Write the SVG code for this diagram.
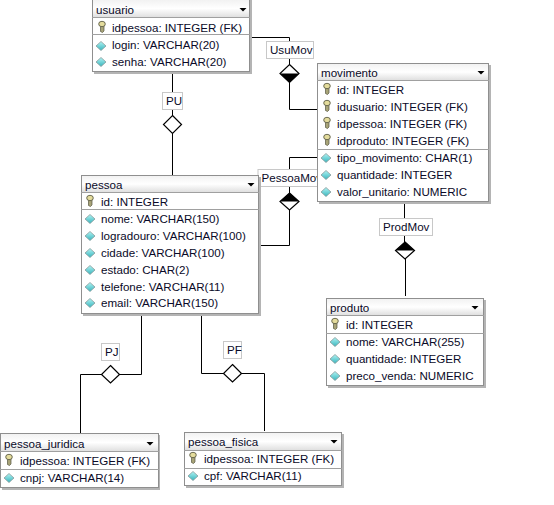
<svg xmlns="http://www.w3.org/2000/svg" xmlns:xlink="http://www.w3.org/1999/xlink" width="554" height="505" viewBox="0 0 554 505">
<style>
text{font-family:"Liberation Sans",Arial,sans-serif;font-size:11.6px;fill:#0a0a28}
.box{fill:#fff;stroke:#8f8f8f;stroke-width:1}
.shadow{fill:#b4b4b4}
.title{fill:url(#tg)}
.sep{stroke:#a0a0a0;stroke-width:1;fill:none}
.conn{fill:none;stroke:#000;stroke-width:1}
.lab{fill:#fff;stroke:#c8c8c8;stroke-width:1}
.dia{fill:#fff;stroke:#000;stroke-width:1.2}
.blk{fill:#000}
</style>
<defs>
<linearGradient id="tg" x1="0" y1="0" x2="0" y2="1"><stop offset="0" stop-color="#f2f2f2"/><stop offset=".5" stop-color="#fff"/><stop offset="1" stop-color="#e0e0e0"/></linearGradient>
<linearGradient id="ag" x1="0" y1="0" x2="0" y2="1"><stop offset="0" stop-color="#b0f4f4"/><stop offset="1" stop-color="#38b4bc"/></linearGradient>
<g id="key"><path d="M-1.500-2L-1.500 4.500L0.500 5.500L2 4V-2z" fill="#a8a478" stroke="#55553f" stroke-width=".7"/><ellipse cx="0" cy="-3" rx="3.300" ry="2.700" fill="#e4dc9c" stroke="#5f5f48" stroke-width=".9"/></g>
<path id="attr" d="M0-4.500L5 0L0 4.500L-5 0z" fill="url(#ag)" stroke="#8a9a9a" stroke-width=".8"/>
<path id="tri" d="M-3.500 0h7l-3.500 3.500z" fill="#000"/>
</defs>
<g id="connectors">
<path class="conn" d="M250 37.500H289.500V109.500H317"/>
<path class="conn" d="M172.500 72V175"/>
<path class="conn" d="M317 157.500H289.500V245.500H259"/>
<path class="conn" d="M404.500 202V242M405.500 259V296"/>
<path class="conn" d="M141.500 314V374.500H80.500V433"/>
<path class="conn" d="M201.500 314V373.500H264.500V431"/>
</g>
<g id="rel-UsuMov"><rect class="lab" x="266.500" y="41.500" width="47" height="17"/><text x="270" y="54">UsuMov</text><path class="dia" d="M289.500 64.500L299 73.500L289.500 82.500L280 73.500z"/><path class="blk" d="M280 73.500L289.500 82.500L299 73.500z"/></g>
<g id="rel-PU"><rect class="lab" x="162.500" y="92.500" width="20" height="17"/><text x="166" y="105">PU</text><path class="dia" d="M172.500 115.500L181.500 124.500L172.500 133.500L163.500 124.500z"/></g>
<g id="rel-ProdMov"><rect class="lab" x="379.500" y="218.500" width="53" height="17"/><text x="383" y="231">ProdMov</text><path class="dia" d="M405 242L414.500 250.500L405 259L395.500 250.500z"/><path class="blk" d="M395.500 250.500L405 242L414.500 250.500z"/></g>
<g id="rel-PJ"><rect class="lab" x="101.500" y="343.500" width="18" height="17"/><text x="105" y="356">PJ</text><path class="dia" d="M110.500 365.500L119.500 374.500L110.500 383L101.500 374.500z"/></g>
<g id="rel-PF"><rect class="lab" x="223.500" y="341.500" width="18" height="17"/><text x="227" y="354">PF</text><path class="dia" d="M232.500 364.500L241.500 373.500L232.500 382L223.500 373.500z"/></g>
<g id="rel-PessoaMov"><rect class="lab" x="258" y="169.500" width="62" height="17"/><text x="261.500" y="182">PessoaMov</text><path class="dia" d="M289.500 193L299 201.500L289.500 210L280 201.500z"/><path class="blk" d="M280 201.500L289.500 193L299 201.500z"/></g>
<g id="usuario"><rect class="shadow" x="94" y="-2" width="158" height="76"/><rect class="box" x="92.500" y="-2.500" width="157" height="74"/><rect class="title" x="93" y="0" width="156" height="17"/><path class="sep" d="M92 17.500H250M92 34.500H250"/><text x="96" y="14">usuario</text><use xlink:href="#tri" x="243" y="8"/><use xlink:href="#key" x="102" y="27"/><text x="112" y="32">idpessoa: INTEGER (FK)</text><use xlink:href="#attr" x="101" y="46"/><text x="112" y="49">login: VARCHAR(20)</text><use xlink:href="#attr" x="101" y="62"/><text x="112" y="66">senha: VARCHAR(20)</text></g>
<g id="movimento"><rect class="shadow" x="319" y="65" width="172" height="139"/><rect class="box" x="317.500" y="63.500" width="171" height="138"/><rect class="title" x="318" y="64" width="170" height="16"/><path class="sep" d="M317 80.500H489M317 149.500H489"/><text x="321" y="77">movimento</text><use xlink:href="#tri" x="481" y="71"/><use xlink:href="#key" x="327" y="89"/><text x="337" y="94">id: INTEGER</text><use xlink:href="#key" x="327" y="106"/><text x="337" y="111">idusuario: INTEGER (FK)</text><use xlink:href="#key" x="327" y="123"/><text x="337" y="128">idpessoa: INTEGER (FK)</text><use xlink:href="#key" x="327" y="140"/><text x="337" y="145">idproduto: INTEGER (FK)</text><use xlink:href="#attr" x="326" y="158"/><text x="337" y="162">tipo_movimento: CHAR(1)</text><use xlink:href="#attr" x="326" y="175"/><text x="337" y="179">quantidade: INTEGER</text><use xlink:href="#attr" x="326" y="192"/><text x="337" y="196">valor_unitario: NUMERIC</text></g>
<g id="pessoa"><rect class="shadow" x="83" y="177" width="178" height="139"/><rect class="box" x="81.500" y="175.500" width="177" height="138"/><rect class="title" x="82" y="176" width="176" height="16"/><path class="sep" d="M81 192.500H259M81 209.500H259"/><text x="85" y="189">pessoa</text><use xlink:href="#tri" x="251" y="183"/><use xlink:href="#key" x="90" y="201"/><text x="101" y="206">id: INTEGER</text><use xlink:href="#attr" x="90" y="219"/><text x="101" y="223">nome: VARCHAR(150)</text><use xlink:href="#attr" x="90" y="236"/><text x="101" y="240">logradouro: VARCHAR(100)</text><use xlink:href="#attr" x="90" y="253"/><text x="101" y="257">cidade: VARCHAR(100)</text><use xlink:href="#attr" x="90" y="270"/><text x="101" y="274">estado: CHAR(2)</text><use xlink:href="#attr" x="90" y="287"/><text x="101" y="291">telefone: VARCHAR(11)</text><use xlink:href="#attr" x="90" y="303"/><text x="101" y="307">email: VARCHAR(150)</text></g>
<g id="produto"><rect class="shadow" x="328" y="300" width="158" height="88"/><rect class="box" x="326.500" y="298.500" width="157" height="87"/><rect class="title" x="327" y="299" width="156" height="16"/><path class="sep" d="M326 315.500H484M326 333.500H484"/><text x="330" y="312">produto</text><use xlink:href="#tri" x="475" y="306"/><use xlink:href="#key" x="335" y="324"/><text x="346" y="329">id: INTEGER</text><use xlink:href="#attr" x="335" y="342"/><text x="346" y="346">nome: VARCHAR(255)</text><use xlink:href="#attr" x="335" y="359"/><text x="346" y="363">quantidade: INTEGER</text><use xlink:href="#attr" x="335" y="376"/><text x="346" y="380">preco_venda: NUMERIC</text></g>
<g id="pessoa_juridica"><rect class="shadow" x="2" y="435" width="158" height="55"/><rect class="box" x="0.500" y="433.500" width="158" height="54"/><rect class="title" x="1" y="434" width="157" height="17"/><path class="sep" d="M0 451.500H159M0 469.500H159"/><text x="4" y="448">pessoa_juridica</text><use xlink:href="#tri" x="150" y="442"/><use xlink:href="#key" x="9" y="460"/><text x="20" y="465">idpessoa: INTEGER (FK)</text><use xlink:href="#attr" x="9" y="478"/><text x="20" y="482">cnpj: VARCHAR(14)</text></g>
<g id="pessoa_fisica"><rect class="shadow" x="186" y="434" width="158" height="54"/><rect class="box" x="184.500" y="432.500" width="157" height="53"/><rect class="title" x="185" y="433" width="156" height="17"/><path class="sep" d="M184 450.500H342M184 468.500H342"/><text x="188" y="446">pessoa_fisica</text><use xlink:href="#tri" x="334" y="440"/><use xlink:href="#key" x="193" y="458"/><text x="204" y="463">idpessoa: INTEGER (FK)</text><use xlink:href="#attr" x="193" y="476"/><text x="204" y="480">cpf: VARCHAR(11)</text></g>
</svg>
